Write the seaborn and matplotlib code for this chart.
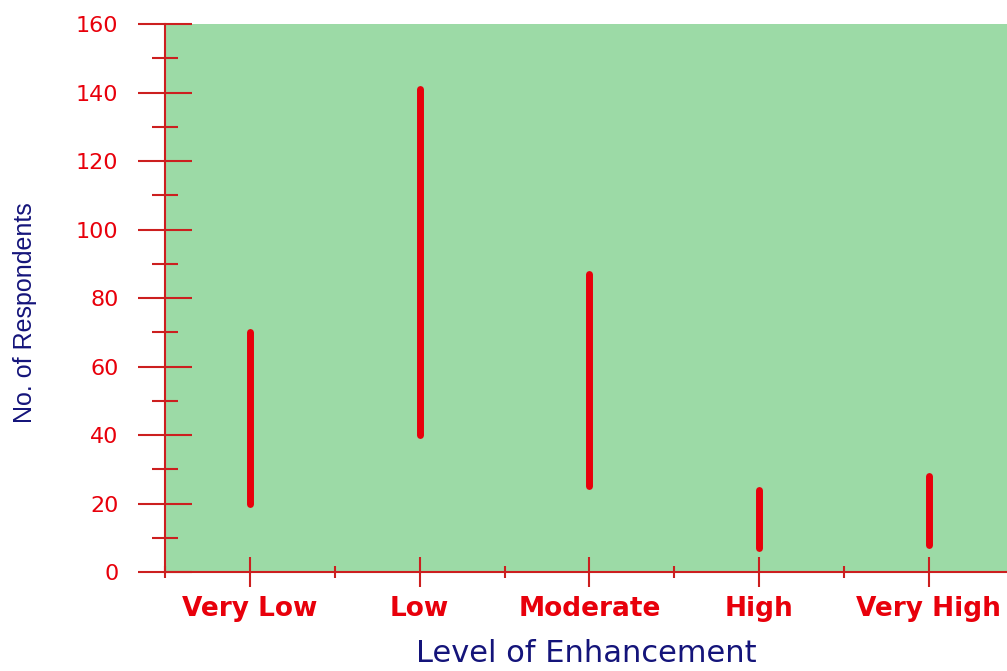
import seaborn as sns
import matplotlib.pyplot as plt
import pandas as pd
from matplotlib.ticker import MultipleLocator, FixedLocator

# Data: range of respondents per level
levels = ['Very Low', 'Low', 'Moderate', 'High', 'Very High']
low_vals = [20, 40, 25, 7, 8]
high_vals = [70, 141, 87, 24, 28]

df = pd.DataFrame({
    'level': levels + levels,
    'count': low_vals + high_vals,
})

red = '#e8000b'
axis_red = '#cc1f1f'
navy = '#14147a'
green = '#9cdaa6'

sns.set_style('white')
plt.rcParams['font.family'] = ['DejaVu Sans']

fig = plt.figure(figsize=(10.07, 6.71), dpi=100)
ax = fig.add_axes([0.1639, 0.1475, 0.8361, 0.8167])
ax.set_facecolor(green)

sns.lineplot(data=df, x='level', y='count', units='level', estimator=None,
             sort=False, color=red, lw=5, solid_capstyle='round', ax=ax)

ax.set_xlim(-0.5, 4.46)
ax.set_ylim(0, 160)

ax.yaxis.set_major_locator(MultipleLocator(20))
ax.yaxis.set_minor_locator(MultipleLocator(10))
ax.xaxis.set_minor_locator(FixedLocator([-0.5, 0.5, 1.5, 2.5, 3.5]))

for side in ['top', 'right']:
    ax.spines[side].set_visible(False)
for side in ['left', 'bottom']:
    ax.spines[side].set_color(axis_red)
    ax.spines[side].set_linewidth(1.5)

ax.tick_params(which='both', left=True, bottom=True, top=False, right=False)
ax.tick_params(axis='y', which='major', direction='inout', length=39, width=1.5,
               color=axis_red, labelcolor=red, labelsize=16, pad=14)
ax.tick_params(axis='y', which='minor', direction='inout', length=19, width=1.5,
               color=axis_red)
ax.tick_params(axis='x', which='major', direction='inout', length=21, width=1.5,
               color=axis_red, labelcolor=red, labelsize=19, pad=7)
ax.tick_params(axis='x', which='minor', direction='inout', length=9, width=1.5,
               color=axis_red)
for lbl in ax.get_xticklabels():
    lbl.set_fontweight('bold')

ax.set_xlabel('Level of Enhancement', color=navy, fontsize=22, labelpad=12)
ax.set_ylabel('No. of Respondents', color=navy, fontsize=18,
              family=['Liberation Sans', 'DejaVu Sans'])
ax.yaxis.set_label_coords(-0.152, 0.473)

fig.savefig('out.png', dpi=100)
